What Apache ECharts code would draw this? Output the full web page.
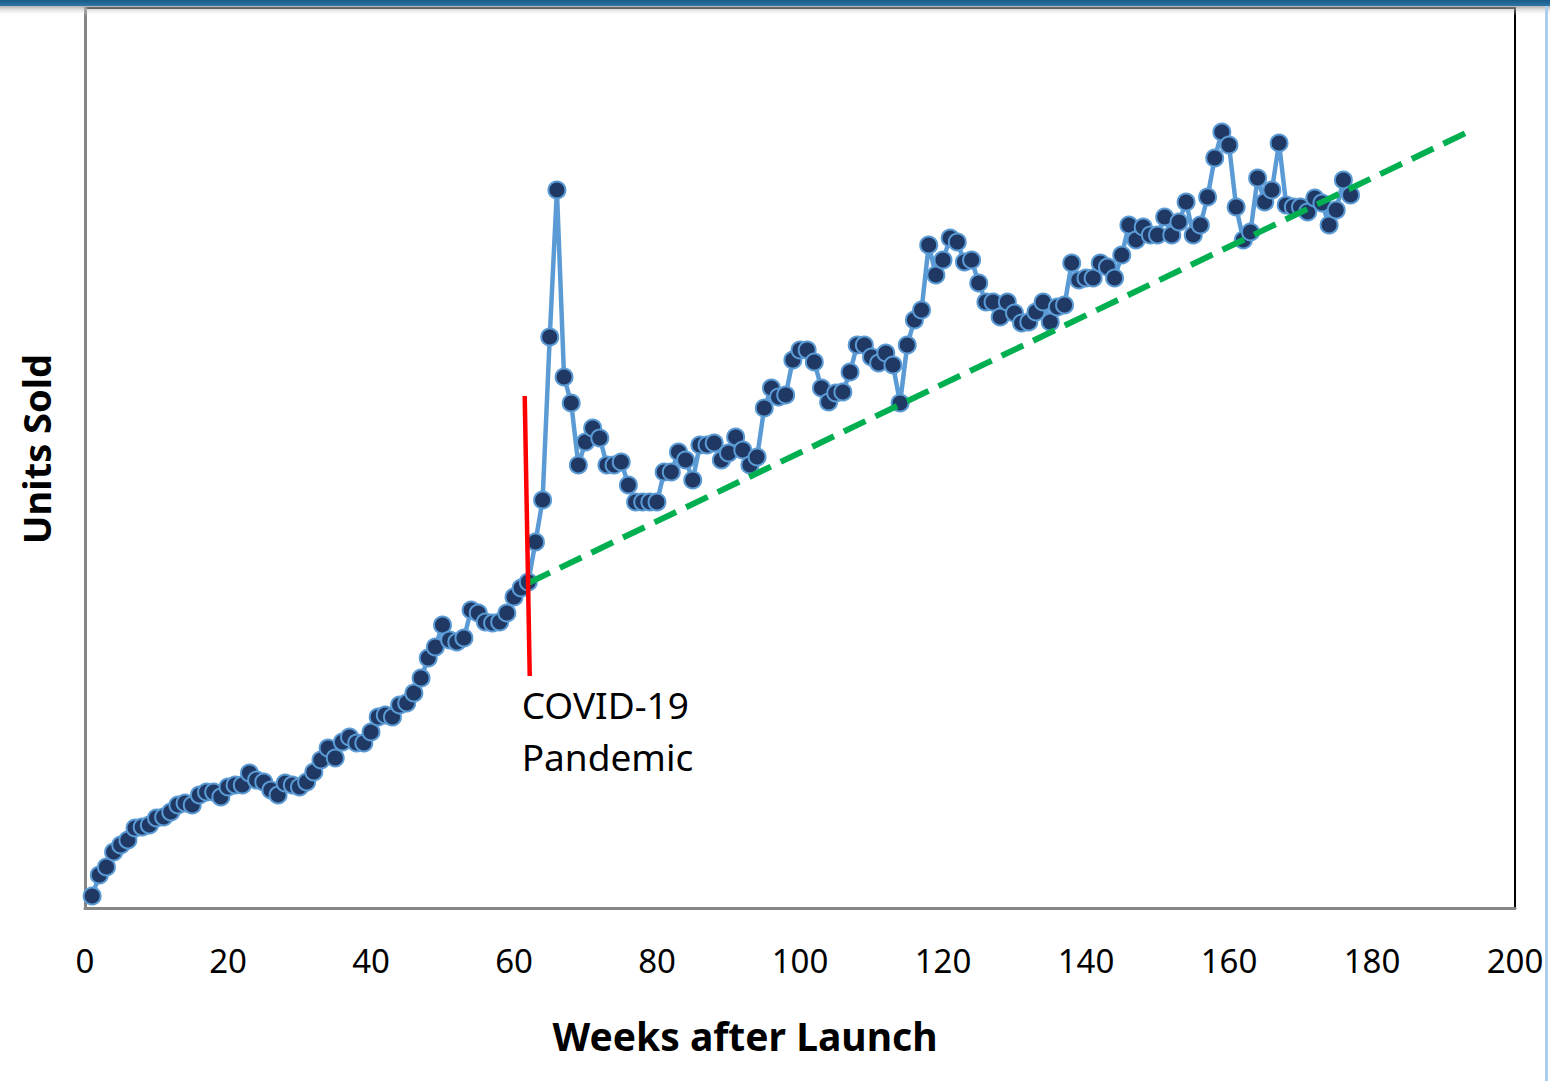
<!DOCTYPE html>
<html>
<head>
<meta charset="utf-8">
<style>
  html, body { margin: 0; padding: 0; background: #ffffff; }
  #chart { width: 1550px; height: 1081px; }
</style>
<script src="https://cdn.jsdelivr.net/npm/echarts@6/dist/echarts.min.js"></script>
</head>
<body>
<div id="chart"></div>
<script>
// ---- data ----
const weeks = Array.from({length: 177}, (_, i) => i + 1);
const unitsSold = [
  12, 33, 41, 56, 63, 68, 80, 81, 83, 90,
  91, 96, 103, 105, 103, 113, 116, 116, 111, 121,
  123, 123, 135, 128, 126, 118, 113, 125, 123, 121,
  126, 136, 148, 160, 150, 166, 171, 165, 165, 176,
  191, 193, 191, 203, 205, 215, 230, 250, 261, 283,
  268, 266, 270, 298, 295, 286, 285, 286, 295, 311,
  320, 326, 366, 408, 571, 718, 531, 505, 443, 466,
  480, 470, 443, 443, 446, 423, 406, 406, 406, 406,
  436, 436, 456, 448, 428, 463, 463, 465, 448, 455,
  471, 458, 443, 451, 500, 520, 511, 513, 548, 558,
  558, 546, 520, 506, 515, 516, 536, 563, 563, 551,
  545, 555, 543, 505, 563, 588, 598, 663, 633, 648,
  670, 666, 646, 648, 625, 606, 606, 591, 606, 595,
  585, 586, 596, 606, 586, 601, 603, 645, 628, 630,
  630, 645, 641, 630, 653, 683, 668, 681, 673, 673,
  691, 673, 686, 706, 673, 683, 711, 750, 776, 763,
  701, 668, 676, 730, 706, 718, 765, 703, 701, 701,
  696, 710, 705, 683, 698, 728, 713
];
const trendWeeks = [62, 194];
const trendValues = [325, 778];
const covidWeeks = [61.5, 62.2];
const covidValues = [512, 232];
const covidLabel = 'COVID-19\nPandemic';
const xTicks = [0, 20, 40, 60, 80, 100, 120, 140, 160, 180, 200];

// ---- chart ----
const chart = echarts.init(document.getElementById('chart'), null, {renderer: 'svg'});
const salesData = weeks.map((w, i) => [w, unitsSold[i]]);
const trendData = trendWeeks.map((w, i) => [w, trendValues[i]]);
const covidData = covidWeeks.map((w, i) => ({value: [w, covidValues[i]]}));
covidData[1].label = {
  show: true,
  formatter: covidLabel,
  position: 'bottom',
  align: 'left',
  verticalAlign: 'top',
  distance: 2,
  offset: [-8, 0],
  fontFamily: 'Noto Sans',
  fontSize: 37,
  lineHeight: 52,
  color: '#000000'
};

const option = {
  animation: false,
  backgroundColor: '#ffffff',
  grid: {
    left: 85, right: 35, top: 8, bottom: 173,
    show: true, borderColor: '#000000', borderWidth: 2, backgroundColor: '#ffffff'
  },
  xAxis: {
    type: 'value', min: 0, max: 200, interval: 20,
    axisLine: {show: true, onZero: false, lineStyle: {color: '#868686', width: 3}},
    axisTick: {show: false},
    splitLine: {show: false},
    axisLabel: {
      margin: 36, fontFamily: 'Noto Sans', fontSize: 33, color: '#000000',
      formatter: v => xTicks.includes(v) ? String(v) : ''
    },
    name: 'Weeks after Launch',
    nameLocation: 'middle',
    nameGap: 108,
    nameTextStyle: {fontFamily: 'Noto Sans', fontWeight: 'bold', fontSize: 39, color: '#000000', padding: [0, 110, 0, 0]}
  },
  yAxis: {
    type: 'value', min: 0, max: 900,
    axisLine: {show: true, onZero: false, lineStyle: {color: '#868686', width: 3}},
    axisTick: {show: false},
    splitLine: {show: false},
    axisLabel: {show: false},
    name: 'Units Sold',
    nameLocation: 'middle',
    nameGap: 30,
    nameTextStyle: {fontFamily: 'Noto Sans', fontWeight: 'bold', fontSize: 38, color: '#000000', padding: [0, 0, 0, 18]}
  },
  series: [
    {
      name: 'Units Sold',
      type: 'line',
      data: salesData,
      showSymbol: true,
      symbol: 'circle',
      symbolSize: 17,
      lineStyle: {color: '#5B9BD5', width: 4.5},
      itemStyle: {color: '#1F3864', borderColor: '#5B9BD5', borderWidth: 2},
      z: 3
    },
    {
      name: 'Trend',
      type: 'line',
      data: trendData,
      showSymbol: false,
      symbol: 'none',
      lineStyle: {color: '#00B050', width: 6, type: [24, 11]},
      z: 4
    },
    {
      name: 'COVID-19',
      type: 'line',
      data: covidData,
      symbol: 'circle',
      symbolSize: 1,
      showSymbol: true,
      itemStyle: {color: 'rgba(255,0,0,0)'},
      lineStyle: {color: '#FF0000', width: 4.5},
      z: 5
    }
  ],
  graphic: [
    {
      type: 'rect', left: 0, top: 0, z: 100, silent: true,
      shape: {width: 1550, height: 6},
      style: {fill: new echarts.graphic.LinearGradient(0, 0, 0, 1, [
        {offset: 0, color: '#1B5A86'}, {offset: 1, color: '#2A77A6'}
      ])}
    },
    {
      type: 'rect', left: 0, top: 6, z: 99, silent: true,
      shape: {width: 1550, height: 10},
      style: {fill: new echarts.graphic.LinearGradient(0, 0, 0, 1, [
        {offset: 0, color: 'rgba(150,150,150,0.75)'}, {offset: 1, color: 'rgba(255,255,255,0)'}
      ])}
    },
    {
      type: 'rect', left: 1545, top: 6, z: 100, silent: true,
      shape: {width: 3, height: 1075},
      style: {fill: '#A9CDEB'}
    }
  ]
};
chart.setOption(option);
</script>
</body>
</html>
